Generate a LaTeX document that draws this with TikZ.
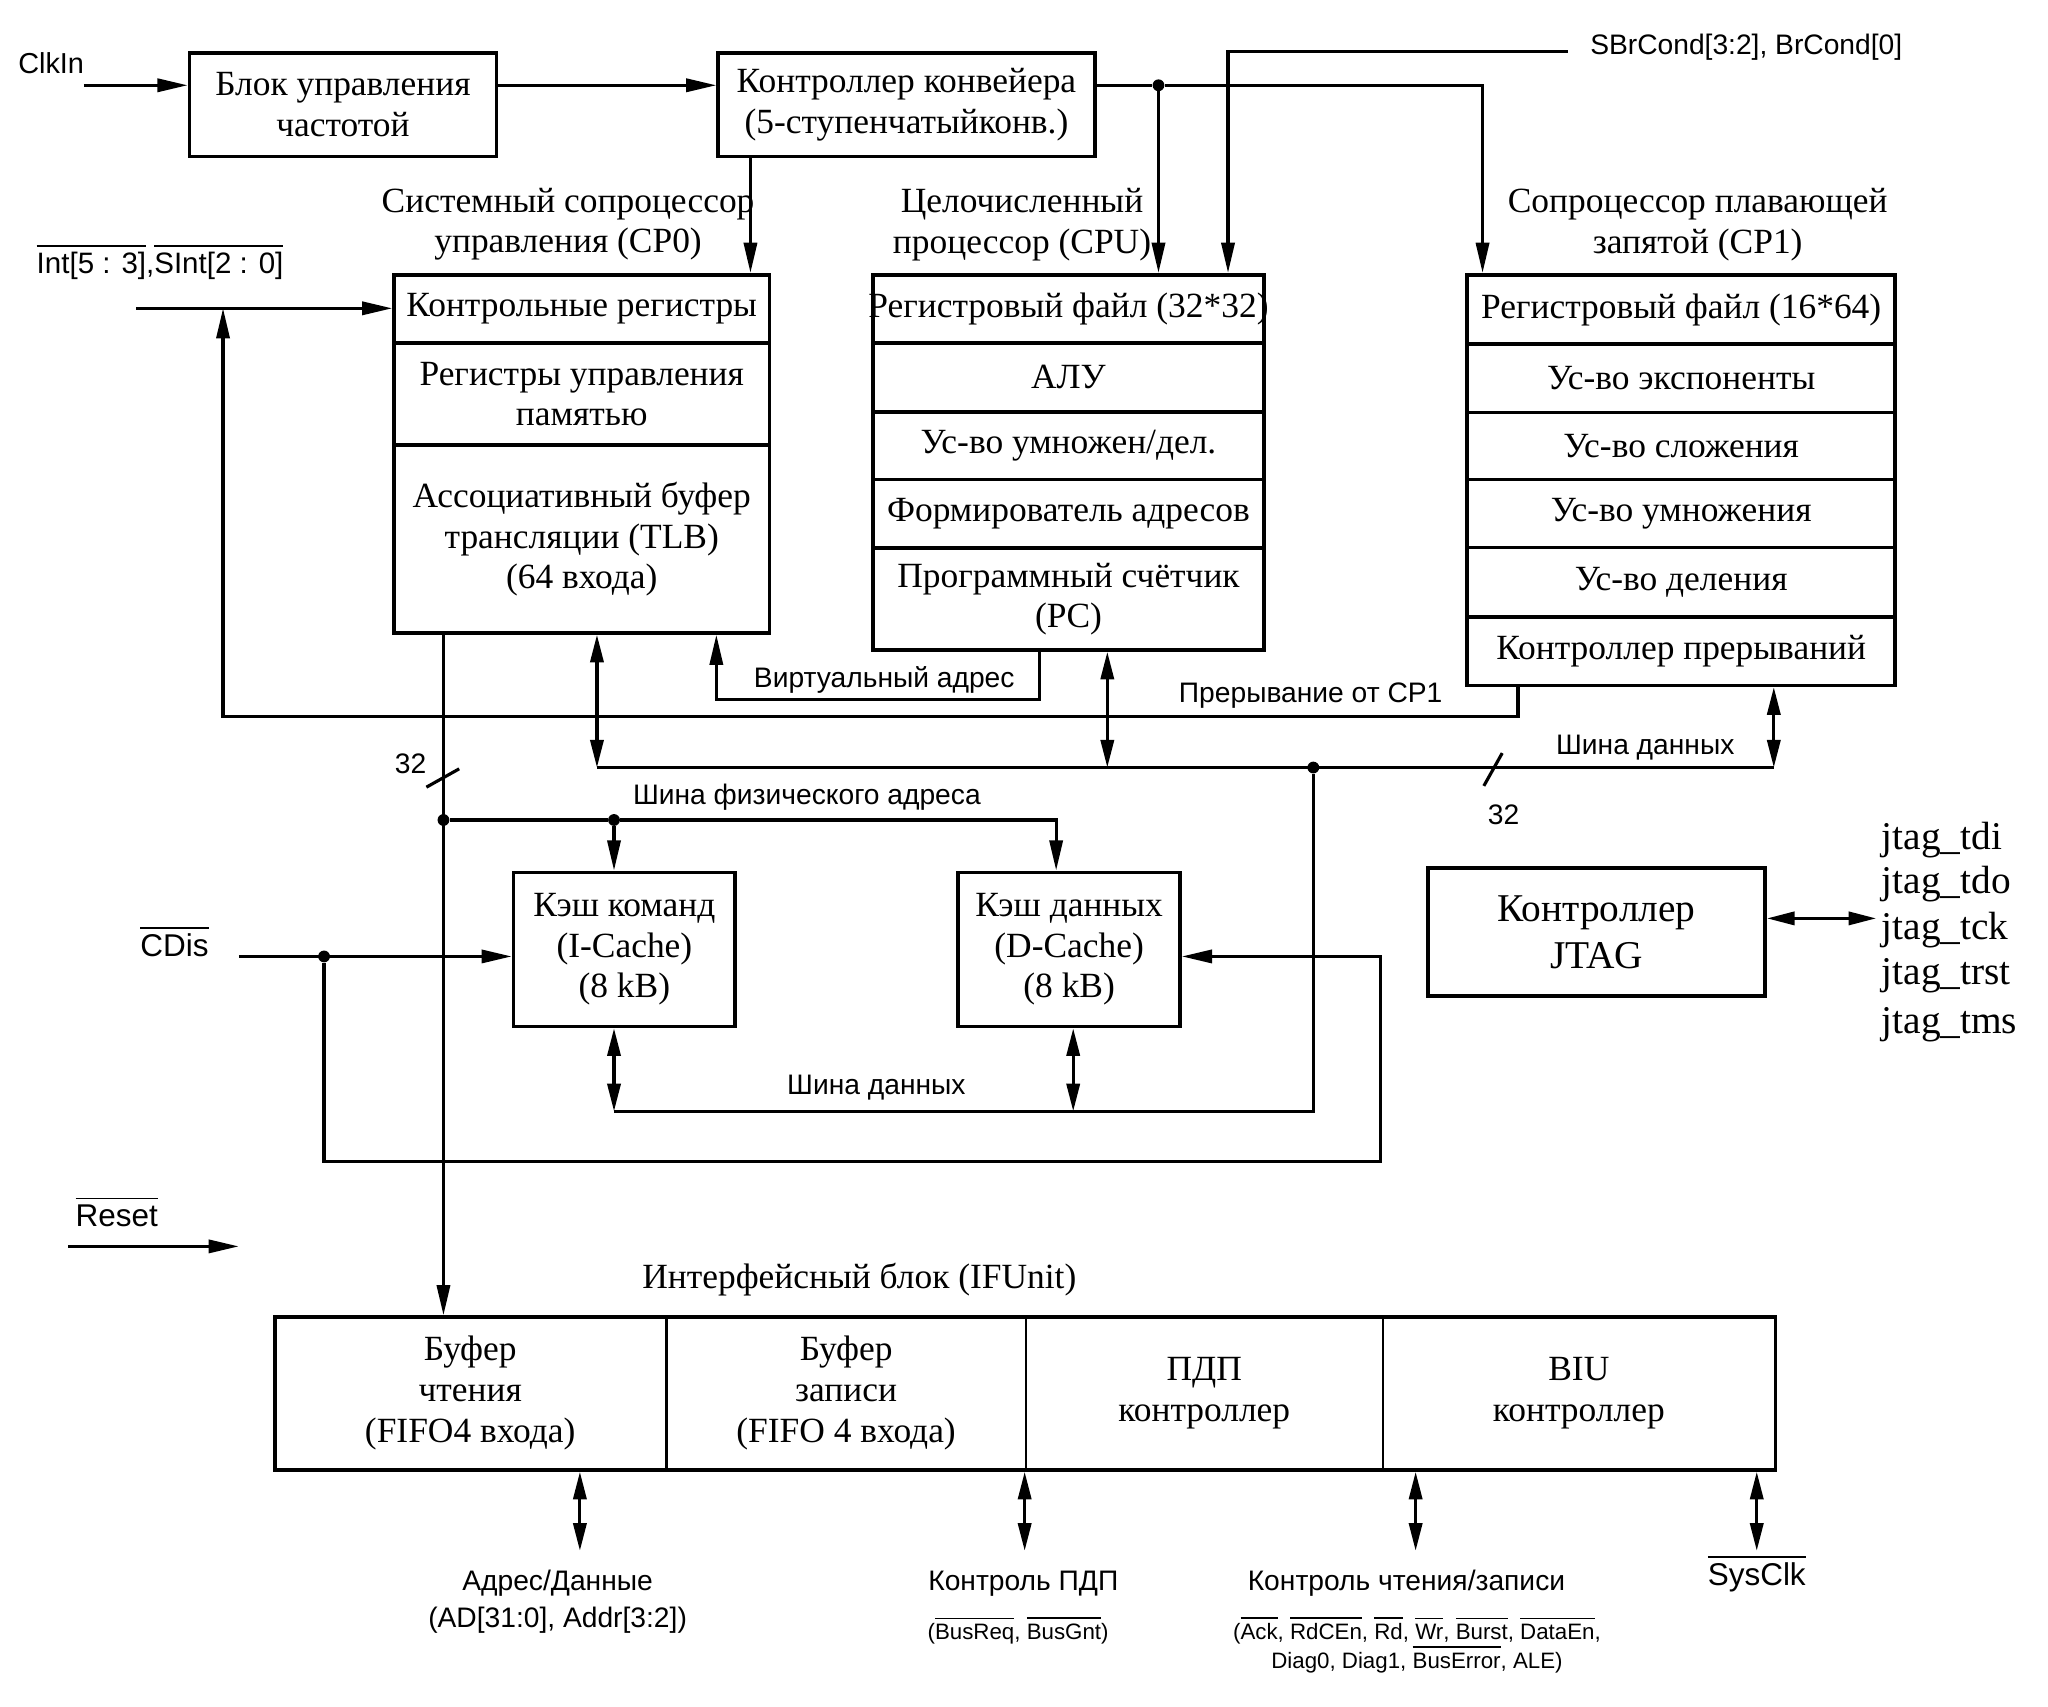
\documentclass[tikz,border=0pt]{standalone}
\usepackage{fontspec}
\setmainfont{Liberation Serif}
\setsansfont{Liberation Sans}
\usetikzlibrary{arrows.meta}
\newcommand\ovl[1]{\vbox{\hrule height 1.2pt\kern 4pt\hbox{#1}}}
\newcommand\serifsz{\fontsize{27}{31}\selectfont}
\newcommand\jtagsz{\fontsize{30}{36}\selectfont}
\newcommand\sanssz{\sffamily\fontsize{21.5}{25}\selectfont}
\newcommand\sigsz{\sffamily\fontsize{24}{28}\selectfont}
\newcommand\intsz{\sffamily\fontsize{22.5}{26}\selectfont}
\newcommand\smallsz{\sffamily\fontsize{17}{21}\selectfont}
\begin{document}
\begin{tikzpicture}[x=1pt,y=-1pt,
 box/.style={draw, line width=2.8pt, anchor=north west, inner sep=0pt, align=center, font=\serifsz},
 cellb/.style={draw, line width=1.8pt, anchor=north west, inner sep=0pt, align=center, font=\serifsz},
 txt/.style={inner sep=0pt, align=center, font=\serifsz},
 jtx/.style={inner sep=0pt, font=\jtagsz, anchor=west},
 lbl/.style={inner sep=0pt, font=\sanssz},
 sig/.style={inner sep=0pt, font=\sigsz},
 sml/.style={inner sep=0pt, font=\smallsz},
 wire/.style={line width=2.4pt},
 arr/.style={wire, -{Triangle[length=23pt,width=10pt]}},
 biarr/.style={wire, {Triangle[length=21pt,width=10pt]}-{Triangle[length=21pt,width=10pt]}},
 dot/.style={circle, fill, inner sep=0pt, minimum size=9pt}
]
\useasboundingbox (0,0) rectangle (1561,1301);

% ---------- top row
\node[lbl, font=\sffamily\fontsize{22}{26}\selectfont] (clkinl) at (39,48) {ClkIn};
\coordinate (clkin) at (64,65);
\node[box, minimum width=234pt, minimum height=79pt] (clk) at (143,39) {Блок управления\\частотой};
\node[box, minimum width=287pt, minimum height=79pt] (pipe) at (546,39) {Контроллер конвейера\\(5-ступенчатыйконв.)};

% ---------- titles
\node[txt] (cp0t) at (433,171) {Системный сопроцессор\\управления (CP0)};
\node[txt] (cput) at (779,171) {Целочисленный\\процессор (CPU)};
\node[txt] (cp1t) at (1294,171) {Сопроцессор плавающей\\запятой (CP1)};

% ---------- CP0
\node[box, minimum width=286pt, minimum height=52pt] (cp0a) at (299,208) {\makebox[250pt]{Контрольные регистры}};
\node[box, minimum width=286pt, minimum height=78pt] (cp0b) at (299,260) {Регистры управления\\памятью};
\node[box, minimum width=286pt, minimum height=143pt] (cp0c) at (299,338) {Ассоциативный буфер\\трансляции (TLB)\\(64 входа)};

% ---------- CPU
\node[box, minimum width=298pt, minimum height=52pt] (cpua) at (664,208) {\makebox[250pt]{Регистровый файл (32*32)}};
\node[box, minimum width=298pt, minimum height=52.5pt] (cpub) at (664,260) {АЛУ};
\node[box, minimum width=298pt, minimum height=51.5pt] (cpuc) at (664,312.5) {Ус-во умножен/дел.};
\node[box, minimum width=298pt, minimum height=52.5pt] (cpud) at (664,364) {Формирователь адресов};
\node[box, minimum width=298pt, minimum height=77.5pt] (cpue) at (664,416.5) {Программный счётчик\\(PC)};

% ---------- CP1
\node[box, minimum width=326pt, minimum height=53pt] (cp1a) at (1117,208) {\makebox[280pt]{Регистровый файл (16*64)}};
\node[box, minimum width=326pt, minimum height=52pt] (cp1b) at (1117,261) {Ус-во экспоненты};
\node[box, minimum width=326pt, minimum height=51pt] (cp1c) at (1117,313) {Ус-во сложения};
\node[box, minimum width=326pt, minimum height=52pt] (cp1d) at (1117,364) {Ус-во умножения};
\node[box, minimum width=326pt, minimum height=53pt] (cp1e) at (1117,416) {Ус-во деления};
\node[box, minimum width=326pt, minimum height=52pt] (cp1f) at (1117,469) {Контроллер прерываний};

% ---------- top connectors
\node[dot] (jp) at (883,65) {};
\draw[arr] (clkin) -- (clk.west |- clkin);
\draw[arr] (clk.east |- clkin) -- (pipe.west |- clkin);
\draw[wire] (pipe.east |- clkin) -- (jp);
\coordinate (cp1in) at ([xshift=13pt]cp1a.north west);
\draw[arr] (jp) -| (cp1in);
\draw[arr] (jp) -- (jp |- cpua.north);
\coordinate (sbr) at (1195,39);
\node[lbl] (sbrl) at (1331,36) {SBrCond[3:2], BrCond[0]};
\coordinate (cpuin) at ([xshift=272pt]cpua.north west);
\draw[arr] (sbr) -| (cpuin);
\coordinate (pc) at ([xshift=26pt]pipe.south west);
\draw[arr] (pc) -- (pc |- cp0a.north);

% ---------- interrupts
\node[inner sep=0pt, font=\intsz] (intl) at (122,200) {\ovl{Int[5 : 3]},\ovl{SInt[2 : 0]}};
\coordinate (intin) at (104,235);
\draw[arr] (intin) -- (cp0a.west |- intin);
\coordinate (irqc) at (170,546);
\coordinate (irqs) at ([xshift=40pt]cp1f.south west);
\draw[arr] (irqs) |- (irqc) -- (irqc |- intin);
\node[lbl] (irql) at (999,530) {Прерывание от CP1};

% ---------- virtual address
\coordinate (vas) at ([xshift=128pt]cpue.south west);
\coordinate (vac) at (546,533);
\draw[arr] (vas) |- (vac) -- (vac |- cp0c.south);
\node[lbl] (val) at (674,518) {Виртуальный адрес};

% ---------- data bus
\coordinate (dbl) at (455,585);
\coordinate (dbr) at (1352,585);
\coordinate (dbc) at (844,585);
\draw[wire] (dbl) -- (dbr);
\node[dot] (jd) at (1001,585) {};
\draw[biarr] (dbl |- cp0c.south) -- (dbl);
\draw[biarr] (dbc |- cpue.south) -- (dbc);
\draw[biarr] (dbr |- cp1f.south) -- (dbr);
\node[lbl] (dbtl) at (1254,570) {Шина данных};
\draw[wire] (1131,599) -- (1145,574);
\node[lbl] (n32b) at (1146,621) {32};

% ---------- main vertical and physical address bus
\coordinate (mv) at ([xshift=39pt]cp0c.south west);
\draw[wire] (325,600) -- (350,586);
\node[lbl] (n32a) at (313,582) {32};
\node[dot] (pa) at (338,625) {};
\node[dot] (pb) at (468,625) {};

% ---------- caches
\node[box, minimum width=169pt, minimum height=117.5pt] (icache) at (390,663.5) {Кэш команд\\(I-Cache)\\(8 kB)};
\node[box, minimum width=169pt, minimum height=117.5pt] (dcache) at (729,663.5) {Кэш данных\\(D-Cache)\\(8 kB)};
\draw[wire] (pa) -- (pb);
\coordinate (dct) at ([xshift=76pt]dcache.north west);
\draw[arr] (pb) -| (dct);
\draw[arr] (pb) -- (pb |- icache.north);
\node[lbl] (pal) at (615,608) {Шина физического адреса};

% ---------- CDis
\node[sig] (cdisl) at (133,718) {\ovl{CDis}};
\coordinate (cdin) at (182,729);
\node[dot] (cdj) at (247,729) {};
\coordinate (cdb) at (1052,885);
\draw[arr] (cdin) -- (icache.west |- cdin);
\draw[arr] (cdj) |- (cdb) |- (dcache.east |- cdin);

% ---------- lower data bus
\coordinate (ldr) at (1001,847);
\coordinate (ldl) at (468,847);
\coordinate (ldd) at (818,847);
\draw[wire] (jd) -- (ldr) -- (ldl);
\draw[biarr] (ldl |- icache.south) -- (ldl);
\draw[biarr] (ldd |- dcache.south) -- (ldd);
\node[lbl] (ldbl) at (668,829) {Шина данных};

% ---------- JTAG
\node[box, minimum width=257pt, minimum height=98pt, font=\jtagsz] (jtag) at (1087,660) {Контроллер\\JTAG};
\coordinate (jtr) at (1430,700);
\draw[biarr] (jtag.east |- jtr) -- (jtr);
\node[jtx] (jt1) at (1434,640) {jtag\_tdi};
\node[jtx] (jt2) at (1434,674) {jtag\_tdo};
\node[jtx] (jt3) at (1434,709) {jtag\_tck};
\node[jtx] (jt4) at (1434,744) {jtag\_trst};
\node[jtx] (jt5) at (1434,781) {jtag\_tms};

% ---------- Reset
\node[sig] (rstl) at (89,924) {\ovl{Reset}};
\coordinate (rs1) at (52,950);
\coordinate (rs2) at (182,950);
\draw[arr] (rs1) -- (rs2);

% ---------- interface unit
\node[txt] (ifut) at (655,975) {Интерфейсный блок (IFUnit)};
\node[cellb, minimum width=299pt, minimum height=116.5pt] (ifu1) at (208,1002.5) {Буфер\\чтения\\(FIFO4 входа)};
\node[cellb, minimum width=274pt, minimum height=116.5pt] (ifu2) at (507,1002.5) {Буфер\\записи\\(FIFO 4 входа)};
\node[cellb, minimum width=272pt, minimum height=116.5pt] (ifu3) at (781,1002.5) {ПДП\\контроллер};
\node[cellb, minimum width=299pt, minimum height=116.5pt] (ifu4) at (1053,1002.5) {BIU\\контроллер};
\node[box, minimum width=1144pt, minimum height=116.5pt] (ifu) at (208,1002.5) {};
\draw[arr] (mv) -- (mv |- ifu.north);

% ---------- bottom connectors
\coordinate (b1) at (442,1182);
\coordinate (b2) at (781,1182);
\coordinate (b3) at (1079,1182);
\coordinate (b4) at (1339,1182);
\draw[biarr] (b1 |- ifu.south) -- (b1);
\draw[biarr] (b2 |- ifu.south) -- (b2);
\draw[biarr] (b3 |- ifu.south) -- (b3);
\draw[biarr] (b4 |- ifu.south) -- (b4);
\node[lbl] (adl1) at (425,1207) {Адрес/Данные};
\node[lbl] (adl2) at (425,1235) {(AD[31:0], Addr[3:2])};
\node[lbl] (dmal1) at (780,1207) {Контроль ПДП};
\node[sml] (dmal2) at (776,1243) {(\ovl{BusReq}, \ovl{BusGnt})};
\node[lbl] (rwl1) at (1072,1207) {Контроль чтения/записи};
\node[sml] (rwl2) at (1080,1243) {(\ovl{Ack}, \ovl{RdCEn}, \ovl{Rd}, \ovl{Wr}, \ovl{Burst}, \ovl{DataEn},};
\node[sml] (rwl3) at (1080,1265) {Diag0, Diag1, \ovl{BusError}, ALE)};
\node[sig] (sysl) at (1339,1200) {\ovl{SysClk}};
\end{tikzpicture}
\end{document}
